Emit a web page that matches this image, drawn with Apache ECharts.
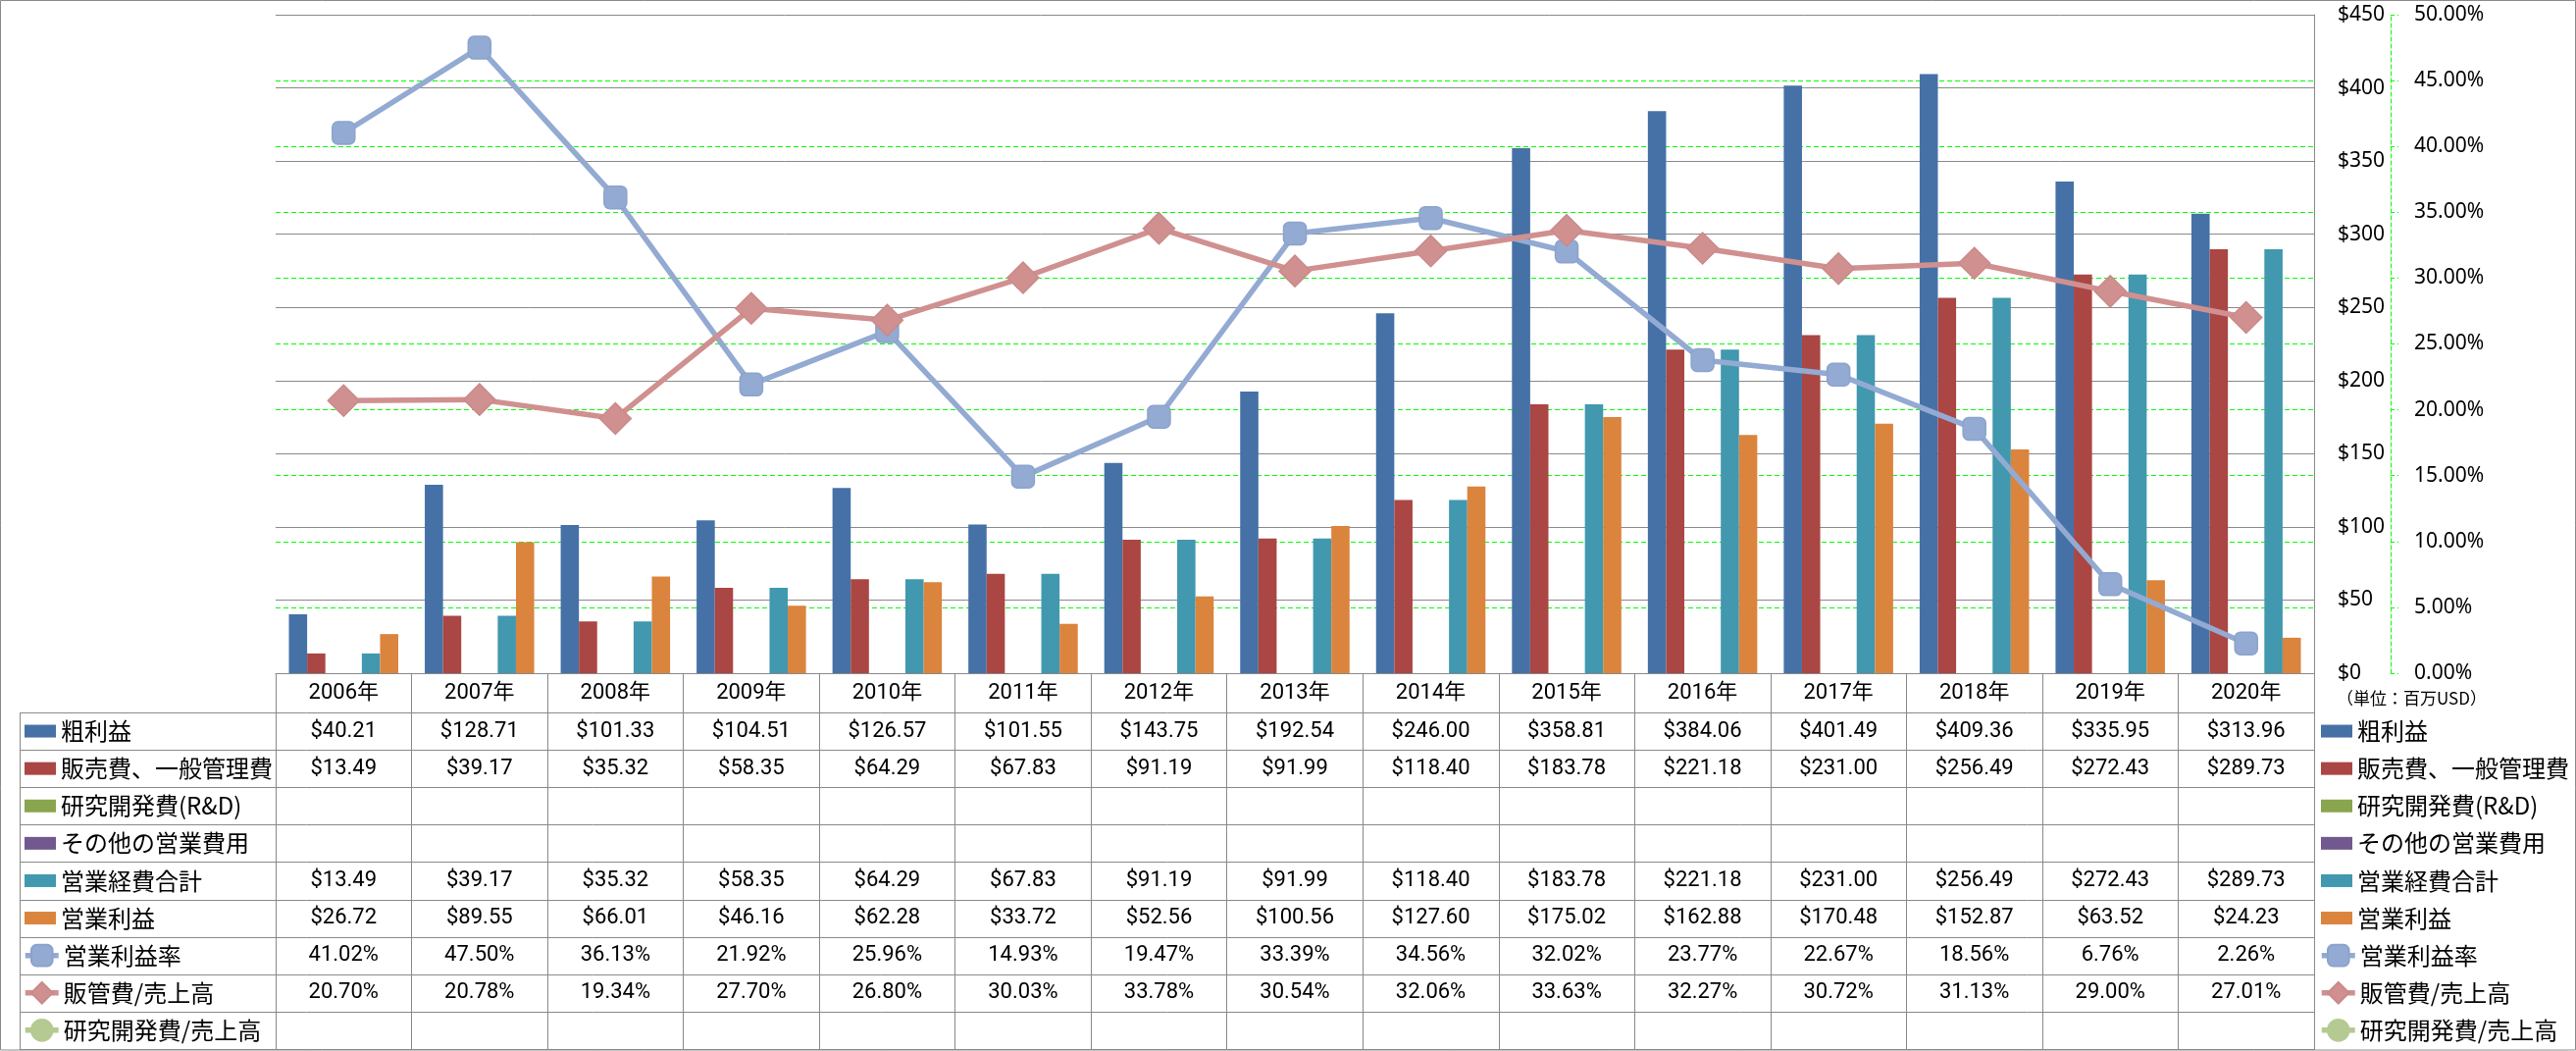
<!DOCTYPE html>
<html><head><meta charset="utf-8">
<script src="https://cdn.jsdelivr.net/npm/echarts@6/dist/echarts.min.js"></script>
<style>html,body{margin:0;padding:0;background:#fff}#c{width:2626px;height:1071px}</style>
</head><body><div id="c"></div>
<script>
const categories = ['2006年','2007年','2008年','2009年','2010年','2011年','2012年','2013年','2014年','2015年','2016年','2017年','2018年','2019年','2020年'];
const grossProfit = [40.21,128.71,101.33,104.51,126.57,101.55,143.75,192.54,246.00,358.81,384.06,401.49,409.36,335.95,313.96];
const sgaExpense = [13.49,39.17,35.32,58.35,64.29,67.83,91.19,91.99,118.40,183.78,221.18,231.00,256.49,272.43,289.73];
const rdExpense = [null,null,null,null,null,null,null,null,null,null,null,null,null,null,null];
const otherExpense = [null,null,null,null,null,null,null,null,null,null,null,null,null,null,null];
const opexTotal = [13.49,39.17,35.32,58.35,64.29,67.83,91.19,91.99,118.40,183.78,221.18,231.00,256.49,272.43,289.73];
const opIncome = [26.72,89.55,66.01,46.16,62.28,33.72,52.56,100.56,127.60,175.02,162.88,170.48,152.87,63.52,24.23];
const opMargin = [41.02,47.50,36.13,21.92,25.96,14.93,19.47,33.39,34.56,32.02,23.77,22.67,18.56,6.76,2.26];
const sgaRatio = [20.70,20.78,19.34,27.70,26.80,30.03,33.78,30.54,32.06,33.63,32.27,30.72,31.13,29.00,27.01];
const rdRatio = [null,null,null,null,null,null,null,null,null,null,null,null,null,null,null];
const usdAxis = {min: 0, max: 450, interval: 50};
const pctAxis = {min: 0, max: 50, interval: 5};
const seriesNames = ['粗利益','販売費、一般管理費','研究開発費(R&D)','その他の営業費用','営業経費合計','営業利益','営業利益率','販管費/売上高','研究開発費/売上高'];
const unitLabel = '（単位：百万USD）';

const colors = ['#4571A6','#AA4643','#89A54E','#71588F','#4198AF','#DB843D','#93AAD2','#D09090','#B5CA92'];
const barData = [grossProfit, sgaExpense, rdExpense, otherExpense, opexTotal, opIncome];
const lineData = [opMargin, sgaRatio, rdRatio];
const rowKinds = ['usd','usd','usd','usd','usd','usd','pct','pct','pct'];
const allData = barData.concat(lineData);

const G = {left: 281, top: 15, right: 2359, bottom: 686};
const HEADER_H = 40, ROW_H = 38.1;
const numFont = 'Roboto, "Noto Sans CJK JP", sans-serif';
const jpFont = '"Noto Sans CJK JP", sans-serif';
const axFont = '"Noto Sans", sans-serif';
const gridGray = '#898989';

function fmt(v, kind) {
  if (v === null || v === undefined) return '';
  return kind === 'usd' ? '$' + v.toFixed(2) : v.toFixed(2) + '%';
}

const xAxes = [{
  type: 'category', data: categories, position: 'bottom', gridIndex: 0,
  axisLine: {show: true, lineStyle: {color: gridGray, width: 1}},
  axisTick: {show: true, length: 384, lineStyle: {color: gridGray, width: 1}},
  axisLabel: {interval: 0, margin: 20, verticalAlign: 'middle', fontSize: 22, fontFamily: numFont, color: '#000'},
  splitLine: {show: false}
}];
allData.forEach((arr, r) => {
  xAxes.push({
    type: 'category', position: 'bottom', gridIndex: 0,
    offset: HEADER_H + ROW_H * r,
    data: arr.map(v => fmt(v, rowKinds[r])),
    axisLine: {show: false}, axisTick: {show: false}, splitLine: {show: false},
    axisLabel: {interval: 0, margin: 19, verticalAlign: 'middle', fontSize: 22, fontFamily: numFont, color: '#000'}
  });
});

const series = [];
barData.forEach((arr, i) => {
  series.push({
    name: seriesNames[i], type: 'bar', xAxisIndex: 0, yAxisIndex: 0, data: arr,
    barGap: '0%', barCategoryGap: '19.5%',
    itemStyle: {color: colors[i]}, z: 2
  });
});
const symbols = ['roundRect', 'diamond', 'circle'];
const symSizes = [23, 32, 22];
lineData.forEach((arr, j) => {
  const i = 6 + j;
  series.push({
    name: seriesNames[i], type: 'line', xAxisIndex: 0, yAxisIndex: 1, data: arr,
    symbol: symbols[j], symbolSize: symSizes[j], showAllSymbol: true,
    lineStyle: {color: colors[i], width: 5.5},
    itemStyle: {color: colors[i], borderColor: j === 0 ? '#8BA3CC' : (j === 1 ? '#CA8A8A' : colors[i]), borderWidth: 1.5},
    z: 5 + j
  });
});

function legend(left, top, names, isLine) {
  const l = {
    orient: 'vertical', left: left, top: top, padding: 0, itemGap: 0,
    selectedMode: false,
    data: names,
    itemWidth: isLine ? 34 : 32, itemHeight: isLine ? 27 : 13,
    textStyle: {fontSize: 24, lineHeight: ROW_H, fontFamily: jpFont, color: '#000'}
  };
  if (isLine) l.lineStyle = {width: 5.5};
  else l.icon = 'rect';
  return l;
}
const legends = [
  legend(25, G.bottom + HEADER_H, seriesNames.slice(0, 6), false),
  legend(23, G.bottom + HEADER_H + ROW_H * 6, seriesNames.slice(6), true),
  legend(2366, G.bottom + HEADER_H, seriesNames.slice(0, 6), false),
  legend(2364, G.bottom + HEADER_H + ROW_H * 6, seriesNames.slice(6), true)
];

const graphics = [
  {type: 'rect', shape: {x: 0.5, y: 0.5, width: 2625, height: 1069.5}, style: {fill: 'none', stroke: gridGray, lineWidth: 1}, silent: true},
  {type: 'line', shape: {x1: 20.5, y1: G.bottom + HEADER_H, x2: 20.5, y2: 1070}, style: {stroke: gridGray, lineWidth: 1}, silent: true},
  {type: 'text', left: 2382, top: 703, style: {text: unitLabel, fontSize: 17, fontFamily: jpFont, fill: '#000'}, silent: true}
];
for (let k = 0; k <= 9; k++) {
  const y = Math.round(G.bottom + HEADER_H + ROW_H * k) + 0.5;
  graphics.push({type: 'line', shape: {x1: 20, y1: y, x2: G.right, y2: y}, style: {stroke: gridGray, lineWidth: 1}, silent: true});
}

const chart = echarts.init(document.getElementById('c'));
chart.setOption({
  animation: false,
  backgroundColor: '#fff',
  grid: {left: G.left, top: G.top, width: G.right - G.left, height: G.bottom - G.top, outerBoundsMode: 'none', containLabel: false},
  xAxis: xAxes,
  yAxis: [{
    type: 'value', position: 'right', min: usdAxis.min, max: usdAxis.max, interval: usdAxis.interval,
    axisLine: {show: true, lineStyle: {color: gridGray, width: 1}},
    axisTick: {show: false},
    axisLabel: {margin: 24, align: 'left', formatter: v => '$' + v, fontSize: 21, fontFamily: axFont, color: '#000'},
    splitLine: {show: true, lineStyle: {color: gridGray, width: 1}}
  }, {
    type: 'value', position: 'right', offset: 78, min: pctAxis.min, max: pctAxis.max, interval: pctAxis.interval,
    axisLine: {show: true, lineStyle: {color: '#00FF00', width: 1, type: [4, 3]}},
    axisTick: {show: true, length: 8, lineStyle: {color: '#00FF00', width: 1, type: [4, 3]}},
    axisLabel: {margin: 24, align: 'left', formatter: v => v.toFixed(2) + '%', fontSize: 21, fontFamily: axFont, color: '#000'},
    splitLine: {show: true, showMinLine: false, showMaxLine: false, lineStyle: {color: '#00FF00', width: 1, type: [5, 3]}}
  }],
  legend: legends,
  series: series,
  graphic: graphics
});
</script></body></html>
